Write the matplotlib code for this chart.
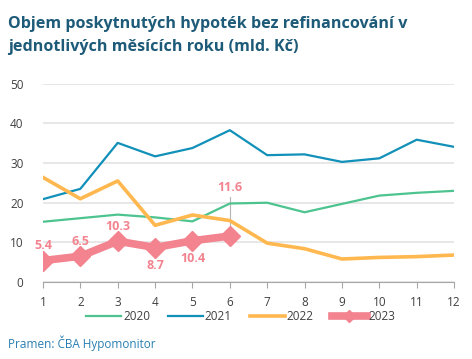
import matplotlib.pyplot as plt

plt.rcParams['font.family'] = ['Open Sans', 'DejaVu Sans']

months = list(range(1, 13))
y2020 = [15.2, 16.1, 17.0, 16.3, 15.3, 19.8, 20.0, 17.6, 19.7, 21.8, 22.5, 23.0]
y2021 = [20.9, 23.5, 35.1, 31.7, 33.8, 38.3, 32.0, 32.2, 30.3, 31.2, 35.9, 34.1]
y2022 = [26.4, 21.0, 25.5, 14.3, 16.9, 15.5, 9.8, 8.4, 5.8, 6.2, 6.4, 6.8]
m2023 = [1, 2, 3, 4, 5, 6]
y2023 = [5.4, 6.5, 10.3, 8.7, 10.4, 11.6]
labels2023 = ["5.4", "6.5", "10.3", "8.7", "10.4", "11.6"]

c20 = "#4dc48f"
c21 = "#1190b9"
c22 = "#ffb84f"
c23 = "#f2838f"

fig = plt.figure(figsize=(4.72, 3.59), dpi=100)
ax = fig.add_axes([0.091, 0.2145, 0.871, 0.552])

ax.plot(months, y2020, color=c20, lw=1.6, label="2020")
ax.plot(months, y2021, color=c21, lw=1.6, label="2021")
ax.plot(months, y2022, color=c22, lw=2.6, label="2022")
ax.plot(m2023, y2023, color=c23, lw=5.5, marker="D", ms=10, label="2023")

# popisky hodnot 2023
below = {"8.7", "10.4"}
for x, y, t in zip(m2023, y2023, labels2023):
    if t == "11.6":
        ax.plot([x, x], [y + 1.2, y + 9.8], color="#b5b5b5", lw=0.8, zorder=1)
        ax.annotate(t, (x, y + 10.6), ha="center", va="bottom",
                    color=c23, fontsize=9, fontweight="bold")
    elif t in below:
        ax.annotate(t, (x, y), xytext=(0, -8), textcoords="offset points",
                    ha="center", va="top", color=c23, fontsize=9, fontweight="bold")
    else:
        ax.annotate(t, (x, y), xytext=(0, 6), textcoords="offset points",
                    ha="center", va="bottom", color=c23, fontsize=9, fontweight="bold")

ax.set_xlim(1, 12)
ax.set_ylim(0, 50)
ax.set_xticks(months)
ax.set_yticks([0, 10, 20, 30, 40, 50])
ax.yaxis.grid(True, color="#e3e3e3", lw=1.2)
ax.set_axisbelow(True)
for s in ["left", "right", "top"]:
    ax.spines[s].set_visible(False)
ax.spines["bottom"].set_color("#a6a6a6")
ax.tick_params(axis="x", direction="out", length=4, color="#a6a6a6",
               labelsize=8.5, labelcolor="#404040", pad=6)
ax.tick_params(axis="y", length=0, labelsize=8.5, labelcolor="#404040", pad=14)

leg = fig.legend(loc="center", bbox_to_anchor=(0.51, 0.117), ncol=4, frameon=False,
                 fontsize=8.5, handlelength=3.0, handletextpad=0.15, columnspacing=1.5,
                 markerscale=0.65)
for t in leg.get_texts():
    t.set_color("#404040")

fig.text(0.017, 0.955, "Objem poskytnutých hypoték bez refinancování v\njednotlivých měsících roku (mld. Kč)",
         ha="left", va="top", fontsize=11.6, fontweight="bold", color="#1d5b79", linespacing=1.6)
fig.text(0.017, 0.045, "Pramen: ČBA Hypomonitor", ha="left", va="center",
         fontsize=8.5, color="#2a7fb0")

fig.savefig("out.png", dpi=100)
